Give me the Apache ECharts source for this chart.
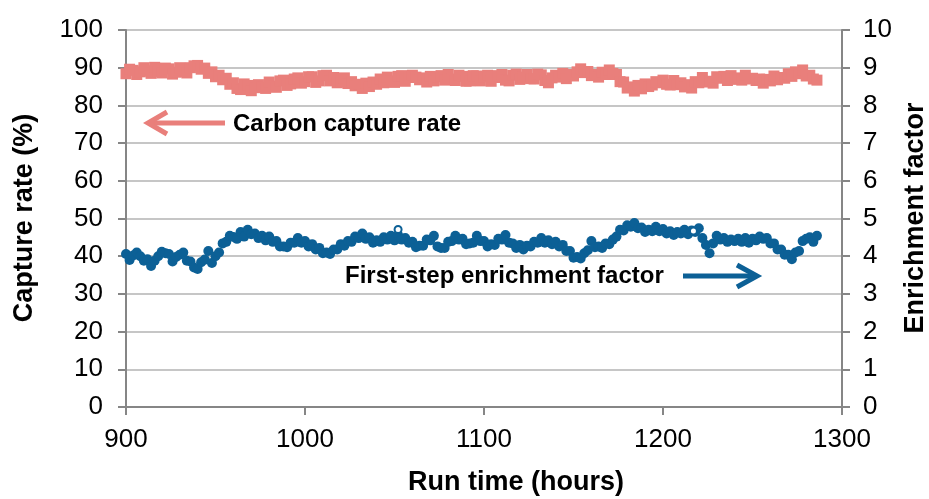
<!DOCTYPE html>
<html>
<head>
<meta charset="utf-8">
<script src="https://cdn.jsdelivr.net/npm/echarts@6/dist/echarts.min.js"></script>
<style>
  html, body { margin: 0; padding: 0; background: #fff; }
  #chart { width: 929px; height: 499px; }
</style>
</head>
<body>
<div id="chart"></div>
<script>
// Run time (hours) of each logged sample
const hours = [
  900, 902, 904, 906, 908, 910, 912, 914, 916, 918, 920, 922, 924, 926, 928, 930,
  932, 934, 936, 938, 940, 942, 944, 946, 948, 950, 952, 954, 956, 958, 960, 962,
  964, 966, 968, 970, 972, 974, 976, 978, 980, 982, 984, 986, 988, 990, 992, 994,
  996, 998, 1000, 1002, 1004, 1006, 1008, 1010, 1012, 1014, 1016, 1018, 1020, 1022, 1024, 1026,
  1028, 1030, 1032, 1034, 1036, 1038, 1040, 1042, 1044, 1046, 1048, 1050, 1052, 1054, 1056, 1058,
  1060, 1062, 1064, 1066, 1068, 1070, 1072, 1074, 1076, 1078, 1080, 1082, 1084, 1086, 1088, 1090,
  1092, 1094, 1096, 1098, 1100, 1102, 1104, 1106, 1108, 1110, 1112, 1114, 1116, 1118, 1120, 1122,
  1124, 1126, 1128, 1130, 1132, 1134, 1136, 1138, 1140, 1142, 1144, 1146, 1148, 1150, 1152, 1154,
  1156, 1158, 1160, 1162, 1164, 1166, 1168, 1170, 1172, 1174, 1176, 1178, 1180, 1182, 1184, 1186,
  1188, 1190, 1192, 1194, 1196, 1198, 1200, 1202, 1204, 1206, 1208, 1210, 1212, 1214, 1216, 1218,
  1220, 1222, 1224, 1226, 1228, 1230, 1232, 1234, 1236, 1238, 1240, 1242, 1244, 1246, 1248, 1250,
  1252, 1254, 1256, 1258, 1260, 1262, 1264, 1266, 1268, 1270, 1272, 1274, 1276, 1278, 1280, 1282,
  1284, 1286
];

// Carbon capture rate (%), left axis
const captureRate = [
  88.4, 89.6, 89.3, 88.2, 88.9, 90.0, 89.2, 88.5, 90.1, 89.0, 88.6, 89.9, 89.7, 88.3, 88.8, 90.0,
  89.0, 88.6, 90.0, 90.5, 90.6, 89.6, 89.9, 88.5, 88.9, 87.6, 88.0, 86.8, 87.2, 85.6, 86.0, 84.5,
  84.2, 85.7, 85.3, 83.9, 84.7, 85.5, 84.8, 84.5, 86.2, 85.1, 84.8, 86.5, 86.7, 85.3, 85.7, 87.0,
  87.3, 85.9, 86.3, 87.6, 87.6, 86.1, 86.5, 87.9, 88.0, 86.5, 87.4, 86.0, 86.2, 87.3, 85.8, 86.3,
  85.2, 85.6, 84.5, 85.9, 85.0, 86.2, 85.6, 87.0, 86.0, 87.5, 86.5, 86.1, 87.7, 87.9, 86.4, 87.4,
  88.0, 87.5, 86.8, 87.3, 86.2, 87.7, 86.5, 87.6, 87.9, 86.7, 88.2, 87.0, 86.6, 88.0, 87.7, 86.4,
  86.5, 87.9, 87.8, 86.5, 87.6, 88.0, 86.4, 87.4, 87.9, 88.2, 86.7, 86.5, 88.0, 88.3, 86.9, 87.5,
  88.2, 87.1, 87.0, 88.3, 88.1, 86.6, 86.0, 87.3, 88.0, 87.5, 88.5, 87.1, 88.2, 87.8, 88.9, 89.7,
  88.7, 89.0, 87.9, 88.2, 87.5, 88.8, 88.2, 89.4, 88.5, 88.2, 86.3, 86.2, 84.6, 84.9, 83.8, 85.3,
  84.4, 85.7, 85.0, 85.4, 86.3, 86.0, 86.7, 85.6, 85.4, 86.6, 85.5, 86.0, 84.9, 85.5, 84.6, 86.3,
  86.0, 87.4, 86.2, 86.4, 85.9, 87.6, 87.2, 87.7, 86.6, 87.9, 86.9, 87.3, 86.7, 88.0, 87.0, 87.2,
  86.6, 87.0, 85.9, 86.9, 86.5, 87.8, 86.8, 87.4, 87.2, 88.4, 87.7, 88.9, 88.4, 89.4, 87.8, 88.0,
  87.0, 86.7
];

// First-step enrichment factor, right axis
const enrichment = [
  4.06, 3.90, 4.02, 4.10, 4.00, 3.88, 3.92, 3.74, 3.88, 4.00, 4.12, 4.08, 4.06, 3.86, 3.98, 4.04,
  4.10, 3.88, 3.86, 3.70, 3.66, 3.84, 3.91, 4.14, 3.82, 4.00, 4.10, 4.34, 4.38, 4.54, 4.51, 4.46,
  4.64, 4.52, 4.70, 4.58, 4.60, 4.48, 4.54, 4.42, 4.52, 4.38, 4.40, 4.26, 4.26, 4.24, 4.36, 4.36,
  4.48, 4.36, 4.40, 4.26, 4.32, 4.18, 4.22, 4.08, 4.10, 4.06, 4.18, 4.18, 4.32, 4.28, 4.40, 4.38,
  4.52, 4.48, 4.60, 4.46, 4.50, 4.36, 4.42, 4.38, 4.50, 4.44, 4.54, 4.42, 4.56, 4.44, 4.48, 4.36,
  4.38, 4.24, 4.28, 4.28, 4.44, 4.42, 4.54, 4.26, 4.22, 4.22, 4.38, 4.40, 4.54, 4.44, 4.46, 4.32,
  4.34, 4.36, 4.54, 4.40, 4.40, 4.26, 4.32, 4.30, 4.46, 4.44, 4.56, 4.36, 4.34, 4.22, 4.30, 4.18,
  4.28, 4.26, 4.38, 4.36, 4.48, 4.36, 4.42, 4.32, 4.38, 4.26, 4.30, 4.14, 4.14, 3.96, 3.98, 3.94,
  4.08, 4.16, 4.40, 4.24, 4.26, 4.22, 4.34, 4.32, 4.44, 4.52, 4.70, 4.68, 4.82, 4.78, 4.88, 4.74,
  4.76, 4.64, 4.70, 4.66, 4.78, 4.66, 4.72, 4.60, 4.66, 4.56, 4.64, 4.60, 4.70, 4.58, 4.68, 4.64,
  4.74, 4.48, 4.30, 4.08, 4.34, 4.54, 4.44, 4.48, 4.38, 4.44, 4.40, 4.46, 4.38, 4.48, 4.36, 4.46,
  4.42, 4.52, 4.46, 4.48, 4.34, 4.34, 4.18, 4.18, 4.04, 4.04, 3.92, 4.10, 4.14, 4.40, 4.46, 4.50,
  4.38, 4.54
];

// Isolated enrichment readings drawn as open circles
const enrichmentOpenHours = [1052, 1217];
const enrichmentOpenValues = [4.71, 4.67];

// Axis ticks
const xTicks = [900, 1000, 1100, 1200, 1300];
const leftTicks = [0, 10, 20, 30, 40, 50, 60, 70, 80, 90, 100];
const rightTicks = [0, 1, 2, 3, 4, 5, 6, 7, 8, 9, 10];

const RED = '#E97F7B';
const BLUE = '#0C6096';
const AXIS = '#868686';
const GRID = '#C6C6C6';
const FONT = '"Liberation Sans", Arial, sans-serif';

const pair = (xs, ys) => xs.map((x, i) => [x, ys[i]]);

const chart = echarts.init(document.getElementById('chart'), null, { renderer: 'canvas' });

const axisCommon = {
  axisLine: { show: true, lineStyle: { color: AXIS, width: 2 } },
  axisTick: { show: true, inside: false, length: 8, lineStyle: { color: AXIS, width: 2 } },
  axisLabel: { color: '#000', fontSize: 26, fontFamily: FONT, formatter: v => String(v) }
};

chart.setOption({
  animation: false,
  backgroundColor: '#fff',
  grid: { left: 126, right: 87, top: 30, bottom: 92, containLabel: false },
  xAxis: {
    type: 'value',
    min: xTicks[0], max: xTicks[xTicks.length - 1], interval: xTicks[1] - xTicks[0],
    ...axisCommon,
    axisLabel: { ...axisCommon.axisLabel, margin: 20 },
    splitLine: { show: false }
  },
  yAxis: [
    {
      type: 'value', position: 'left',
      min: leftTicks[0], max: leftTicks[leftTicks.length - 1], interval: leftTicks[1] - leftTicks[0],
      ...axisCommon,
      axisLabel: { ...axisCommon.axisLabel, margin: 23 },
      splitLine: { show: true, lineStyle: { color: GRID, width: 2 } }
    },
    {
      type: 'value', position: 'right',
      min: rightTicks[0], max: rightTicks[rightTicks.length - 1], interval: rightTicks[1] - rightTicks[0],
      ...axisCommon,
      axisLabel: { ...axisCommon.axisLabel, margin: 21 },
      splitLine: { show: false }
    }
  ],
  series: [
    {
      name: 'Carbon capture rate',
      type: 'scatter', yAxisIndex: 0,
      symbol: 'rect', symbolSize: 11,
      itemStyle: { color: RED, opacity: 1 },
      data: pair(hours, captureRate)
    },
    {
      name: 'First-step enrichment factor',
      type: 'scatter', yAxisIndex: 1,
      symbol: 'circle', symbolSize: 10,
      itemStyle: { color: BLUE, opacity: 1 },
      data: pair(hours, enrichment)
    },
    {
      name: 'First-step enrichment factor (open)',
      type: 'scatter', yAxisIndex: 1,
      symbol: 'circle', symbolSize: 7,
      itemStyle: { color: '#fff', borderColor: BLUE, borderWidth: 2, opacity: 1 },
      data: pair(enrichmentOpenHours, enrichmentOpenValues)
    }
  ],
  graphic: [
    // axis titles
    {
      type: 'text', x: 25, y: 218, rotation: Math.PI / 2,
      style: { text: 'Capture rate (%)', font: 'bold 27px ' + FONT, fill: '#000', align: 'center', verticalAlign: 'middle' }
    },
    {
      type: 'text', x: 916, y: 218, rotation: Math.PI / 2,
      style: { text: 'Enrichment factor', font: 'bold 27px ' + FONT, fill: '#000', align: 'center', verticalAlign: 'middle' }
    },
    {
      type: 'text', x: 516, y: 483,
      style: { text: 'Run time (hours)', font: 'bold 27px ' + FONT, fill: '#000', align: 'center', verticalAlign: 'middle' }
    },
    // series annotations with arrows
    {
      type: 'text', x: 233, y: 124,
      style: { text: 'Carbon capture rate', font: 'bold 24px ' + FONT, fill: '#000', align: 'left', verticalAlign: 'middle' }
    },
    {
      type: 'polyline',
      shape: { points: [[225, 123], [149, 123]] },
      style: { stroke: RED, lineWidth: 5, fill: null }
    },
    {
      type: 'polyline',
      shape: { points: [[167, 112], [148, 123], [167, 134]] },
      style: { stroke: RED, lineWidth: 5, fill: null, lineJoin: 'miter' }
    },
    {
      type: 'text', x: 345, y: 276,
      style: { text: 'First-step enrichment factor', font: 'bold 24px ' + FONT, fill: '#000', align: 'left', verticalAlign: 'middle' }
    },
    {
      type: 'polyline',
      shape: { points: [[683, 276], [756, 276]] },
      style: { stroke: BLUE, lineWidth: 5, fill: null }
    },
    {
      type: 'polyline',
      shape: { points: [[737, 265], [757, 276], [737, 287]] },
      style: { stroke: BLUE, lineWidth: 5, fill: null, lineJoin: 'miter' }
    }
  ]
});
</script>
</body>
</html>
